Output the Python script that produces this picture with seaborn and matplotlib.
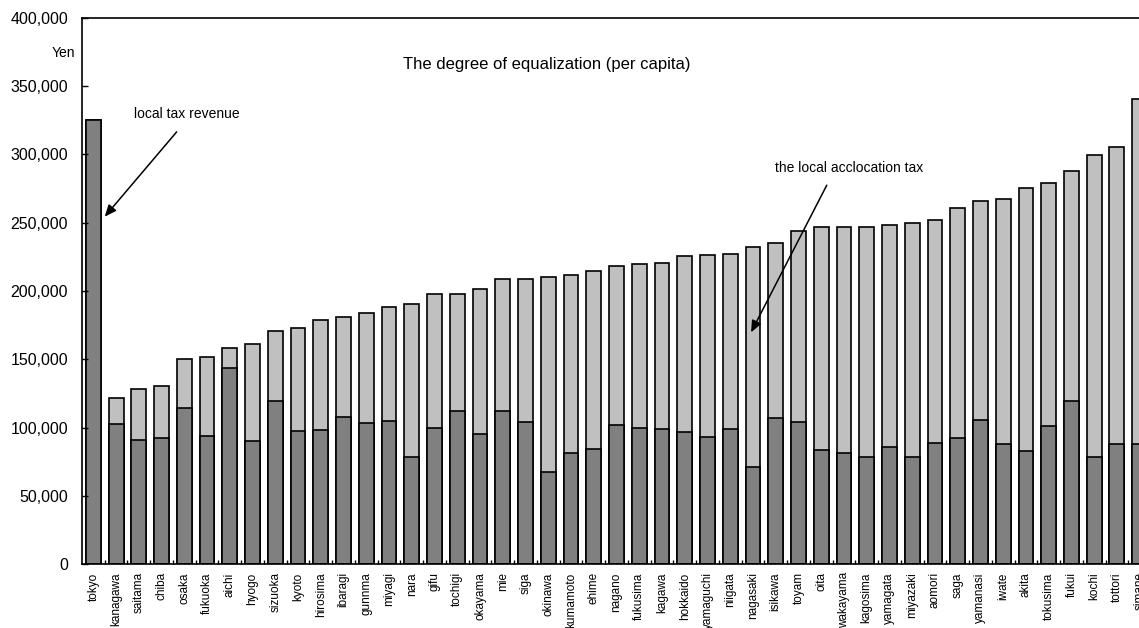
import numpy as np
import matplotlib
matplotlib.use('Agg')
import matplotlib.pyplot as plt
import matplotlib.ticker as mticker
import seaborn as sns

prefectures = ['tokyo', 'kanagawa', 'saitama', 'chiba', 'osaka', 'fukuoka', 'aichi', 'hyogo',
               'sizuoka', 'kyoto', 'hirosima', 'ibaragi', 'gunnma', 'miyagi', 'nara', 'gifu',
               'tochigi', 'okayama', 'mie', 'siga', 'okinawa', 'kumamoto', 'ehime', 'nagano',
               'fukusima', 'kagawa', 'hokkaido', 'yamaguchi', 'niigata', 'nagasaki', 'isikawa',
               'toyam', 'oita', 'wakayama', 'kagosima', 'yamagata', 'miyazaki', 'aomori', 'saga',
               'yamanasi', 'iwate', 'akita', 'tokusima', 'fukui', 'kochi', 'tottori', 'simane']

# local tax revenue per capita (yen)
local_tax = [325500, 102400, 90900, 92600, 114600, 93800, 143400, 90400,
             119700, 97200, 98200, 107500, 103600, 104400, 78700, 99900,
             112400, 95300, 112400, 104300, 67700, 81100, 84000, 101900,
             99700, 99200, 96800, 93300, 98900, 71100, 107300,
             104100, 83800, 81400, 78400, 86000, 78200, 88900, 92600,
             105800, 88000, 83100, 101400, 119500, 78700, 87700, 87700]

# local tax + local allocation tax per capita (yen)
total = [325500, 121400, 128500, 130700, 150000, 152000, 157900, 161500,
         170600, 173200, 179100, 180600, 184000, 188600, 190800, 197900,
         197900, 201100, 208900, 208900, 210400, 211600, 214300, 218400,
         219700, 220400, 225800, 226500, 227000, 232100, 235000,
         244300, 246800, 246800, 246800, 248000, 249500, 251900, 261000,
         266100, 267500, 275300, 279300, 287800, 299800, 305700, 340800]

plt.rcParams['font.family'] = ['Liberation Sans', 'DejaVu Sans']

fig = plt.figure(figsize=(11.39, 6.28), dpi=100)
# axes runs a little past the right edge, like the original screenshot
ax = fig.add_axes([82 / 1139, 64 / 628, 1069 / 1139, 546 / 628])

sns.barplot(x=prefectures, y=total, color='#c0c0c0', saturation=1, edgecolor='black',
            linewidth=1.2, width=0.65, ax=ax)
sns.barplot(x=prefectures, y=local_tax, color='#808080', saturation=1, edgecolor='black',
            linewidth=1.2, width=0.65, ax=ax)

ax.set_xlim(-0.5, len(prefectures) - 0.5)
ax.set_ylim(0, 400000)
ax.set_yticks(np.arange(0, 400001, 50000))
ax.yaxis.set_major_formatter(mticker.FuncFormatter(lambda v, p: '{:,.0f}'.format(v)))
ax.tick_params(axis='y', labelsize=11.5, length=4, width=1, pad=10, direction='in')
ax.tick_params(axis='x', labelsize=8.5, length=0, pad=6, rotation=90)
ax.set_xticks(np.arange(len(prefectures) - 1) + 0.5, minor=True)
ax.tick_params(axis='x', which='minor', length=3, width=1, direction='in')
ax.set_xlabel('')
ax.set_ylabel('')

for s in ['left', 'bottom', 'top', 'right']:
    ax.spines[s].set_linewidth(1.2)
    ax.spines[s].set_color('black')

fig.text(63.5 / 1139, 1 - 53 / 628, 'Yen', ha='center', va='center', fontsize=10)
ax.text(19.93, 365800, 'The degree of equalization (per capita)', ha='center', va='center', fontsize=12)

ax.text(4.11, 329900, 'local tax revenue', ha='center', va='center', fontsize=10)
ax.annotate('', xy=(0.42, 252900), xytext=(3.74, 318100),
            arrowprops=dict(arrowstyle='-|>,head_length=0.7,head_width=0.3', color='black', lw=1.1))

ax.text(33.23, 290300, 'the local acclocation tax', ha='center', va='center', fontsize=10)
ax.annotate('', xy=(28.86, 167900), xytext=(32.3, 279300),
            arrowprops=dict(arrowstyle='-|>,head_length=0.7,head_width=0.3', color='black', lw=1.1))

fig.savefig('out.png', dpi=100)
